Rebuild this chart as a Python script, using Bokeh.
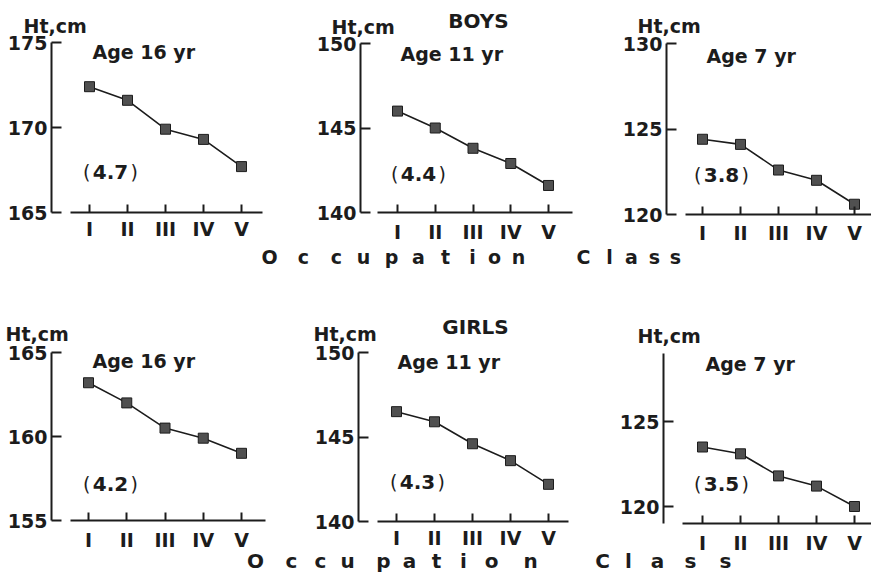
from bokeh.plotting import figure
from bokeh.models import Range1d, FixedTicker, Label
from bokeh.layouts import row, column
from bokeh.embed import file_html
from bokeh.resources import INLINE
from bokeh.core.properties import value

# ---- data -------------------------------------------------------------
classes = ["I", "II", "III", "IV", "V"]
class_pos = [1, 2, 3, 4, 5]

boys_16 = [172.4, 171.6, 169.9, 169.3, 167.7]
boys_11 = [146.0, 145.0, 143.8, 142.9, 141.6]
boys_7 = [124.4, 124.1, 122.6, 122.0, 120.6]

girls_16 = [163.2, 162.0, 160.5, 159.9, 159.0]
girls_11 = [146.5, 145.9, 144.6, 143.6, 142.2]
girls_7 = [123.5, 123.1, 121.8, 121.2, 120.0]

boys_ticks = [[165, 170, 175], [140, 145, 150], [120, 125, 130]]
girls_ticks = [[155, 160, 165], [140, 145, 150], [120, 125]]
age_labels = ["Age 16 yr", "Age 11 yr", "Age 7 yr"]
group_labels = ["BOYS", "GIRLS"]
y_unit = "Ht,cm"
x_title = "Occupation Class"

# ---- styling ----------------------------------------------------------
INK = "#1c1c1c"
MARK_FILL = "#505050"
FONT = "DejaVu Sans"

# letter-spaced axis title: centre of each letter across the full width
TITLE_X_TOP = [269, 303, 336, 363, 391, 418, 445, 472, 494, 518,
               583, 609, 631, 654, 675]
TITLE_X_BOTTOM = [255, 291, 320, 347, 383, 409, 436, 463, 491, 530,
                  602, 628, 657, 690, 725]
TITLE_LETTERS = [ch for ch in x_title if ch != " "]


def make_panel(values, yticks, y_floor, y_top, g, age_text, header=None,
               title=None):
    """One small panel; the frame fills the whole figure and the axes are
    pinned at fixed data locations inside it."""
    W, H, L, B = g["W"], g["H"], g["L"], g["B"]
    sx, sy, xI = g["sx"], g["sy"], g["xI"]

    def dx(px):
        return 1 + (px - xI) / sx

    def dy(py):
        return y_floor + (B - py) / sy

    p = figure(width=W, height=H,
               x_range=Range1d(dx(0), dx(W)),
               y_range=Range1d(dy(H), dy(0)),
               output_backend="svg", toolbar_location=None, min_border=0)
    p.grid.visible = False
    p.outline_line_color = None
    p.background_fill_color = "white"
    p.border_fill_color = "white"

    for ax in (p.xaxis[0], p.yaxis[0]):
        ax.axis_line_width = 2
        ax.axis_line_color = INK
        ax.major_tick_line_width = 2
        ax.major_tick_line_color = INK
        ax.major_tick_out = 0
        ax.minor_tick_line_color = None
        ax.major_label_text_font = FONT
        ax.major_label_text_font_style = "bold"
        ax.major_label_text_color = INK
        ax.major_label_text_font_size = "19px"

    xa = p.xaxis[0]
    xa.fixed_location = y_floor
    xa.ticker = FixedTicker(ticks=class_pos)
    xa.major_label_overrides = {k: c for k, c in zip(class_pos, classes)}
    xa.major_tick_in = 8
    xa.bounds = (dx(g["ax"][0]), dx(g["ax"][1]))
    xa.major_label_standoff = g["xs"]

    ya = p.yaxis[0]
    ya.fixed_location = dx(L)
    ya.ticker = FixedTicker(ticks=yticks)
    ya.major_tick_in = 10
    ya.bounds = (y_floor, y_top)
    ya.major_label_standoff = 4

    p.line(class_pos, values, line_color=INK, line_width=1.6)
    p.scatter(class_pos, values, marker="square", size=10,
              fill_color=MARK_FILL, line_color=INK, line_width=1)

    def label(px, py, text, size, bold=True, align="left", x_offset=0):
        p.add_layout(Label(x=dx(px), y=dy(py), text=text, x_offset=x_offset,
                           text_font=FONT, text_font_size=size,
                           text_font_style="bold" if bold else "normal",
                           text_color=INK, text_align=align,
                           text_baseline="middle"))

    label(*g["unit"], y_unit, "19px")
    label(*g["age"], age_text, "19px")
    if header is not None:
        label(*g["head"], header, "20px", align="center")

    # spread between class I and class V, shown in brackets
    spread = f"{values[0] - values[-1]:.1f}"
    cx, cy = g["spread"]
    label(cx, cy, spread, "20px", align="center")
    label(cx, cy, "(", "19px", bold=False, align="right", x_offset=-20)
    label(cx, cy, ")", "19px", bold=False, align="left", x_offset=20)

    # the part of the shared, letter-spaced axis title that falls in this panel
    if title is not None:
        xs_all, mid, size = title
        x0 = g["x0"]
        picked = [(x - x0, ch) for x, ch in zip(xs_all, TITLE_LETTERS)
                  if x0 <= x < x0 + W]
        if picked:
            p.text(x=[dx(x) for x, _ in picked], y=[dy(mid)] * len(picked),
                   text=[ch for _, ch in picked],
                   text_font=value(FONT), text_font_style="bold",
                   text_font_size=size, text_color=INK,
                   text_align="center", text_baseline="middle")
    return p


# panel geometry in pixels (figure-local, y measured downwards; x0 = left edge in page)
G = [
    dict(x0=0, W=290, H=270, L=51, xI=89, sx=38.0, ax=(70, 262), B=212, sy=17.0, xs=5,
         unit=(23, 25), age=(92, 51), spread=(110, 171)),
    dict(x0=290, W=300, H=270, L=70, xI=107, sx=37.75, ax=(87, 282), B=212, sy=16.9, xs=8,
         unit=(41, 26), age=(110, 53), spread=(128, 173), head=(188, 20)),
    dict(x0=590, W=281, H=270, L=76, xI=112, sx=38.0, ax=(95, 281), B=214, sy=17.1, xs=7,
         unit=(47, 25), age=(116, 55), spread=(131, 174)),
    dict(x0=0, W=280, H=305, L=51, xI=88, sx=38.25, ax=(70, 265), B=250, sy=16.8, xs=8,
         unit=(5, 63), age=(92, 90), spread=(110, 213)),
    dict(x0=280, W=300, H=305, L=78, xI=116, sx=38.0, ax=(97, 288), B=251, sy=16.9, xs=5,
         unit=(33, 63), age=(117, 91), spread=(137, 211), head=(195, 56)),
    dict(x0=580, W=291, H=305, L=83, xI=122, sx=38.0, ax=(102, 291), B=253, sy=17.0, xs=8,
         unit=(57, 65), age=(125, 93), spread=(141, 213)),
]

top_title = (TITLE_X_TOP, 256.5, "19px")
bottom_title = (TITLE_X_BOTTOM, 290, "20px")

p1 = make_panel(boys_16, boys_ticks[0], 165, 175, G[0], age_labels[0], title=top_title)
p2 = make_panel(boys_11, boys_ticks[1], 140, 150, G[1], age_labels[1], group_labels[0],
                title=top_title)
p3 = make_panel(boys_7, boys_ticks[2], 120, 130, G[2], age_labels[2], title=top_title)
p4 = make_panel(girls_16, girls_ticks[0], 155, 165, G[3], age_labels[0], title=bottom_title)
p5 = make_panel(girls_11, girls_ticks[1], 140, 150, G[4], age_labels[1], group_labels[1],
                title=bottom_title)
p6 = make_panel(girls_7, girls_ticks[2], 119, 129, G[5], age_labels[2], title=bottom_title)

layout = column(row(p1, p2, p3), row(p4, p5, p6))

open("out.html", "w").write(file_html(layout, INLINE))
